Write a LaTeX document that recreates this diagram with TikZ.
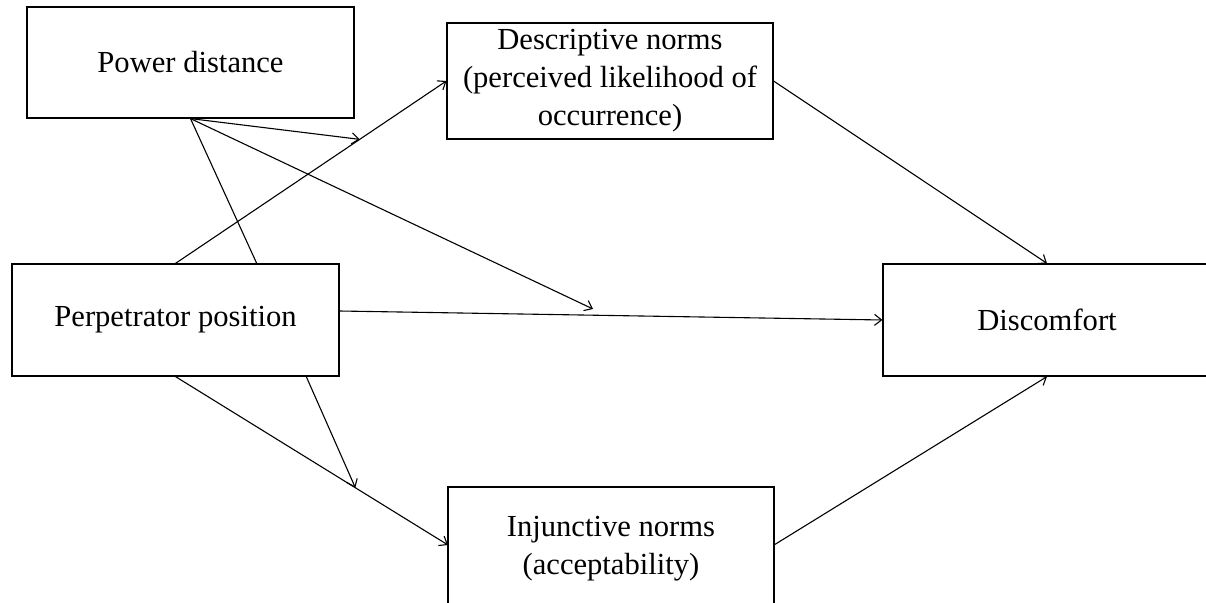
\documentclass[tikz,border=0pt]{standalone}
\usepackage{fontspec}
\setmainfont{Liberation Serif}
\usetikzlibrary{arrows.meta,calc}
\begin{document}
\begin{tikzpicture}[x=0.5pt,y=-0.5pt,
  box/.style={draw=black,line width=0.6pt,inner sep=0pt,align=center,font=\fontsize{15.3}{19}\selectfont},
  conn/.style={line width=0.55pt,draw=black},
  arr/.style={conn,-{Straight Barb[length=3.5pt,width=5.5pt]}}]
\useasboundingbox (0,0) rectangle (1206,603);
\clip (0,0) rectangle (1206,603);
\node[box,minimum width=163.5pt,minimum height=55.5pt] (pd) at (190.5,62.5) {Power distance};
\node[box,minimum width=163pt,minimum height=58pt] (desc) at (610,81) {Descriptive norms\\(perceived likelihood of\\occurrence)};
\node[box,minimum width=163.5pt,minimum height=56pt] (perp) at (175.5,320) {Perpetrator position};
\node[box,minimum width=164pt,minimum height=56pt] (disc) at (1047,320) {Discomfort};
\node[box,minimum width=163pt,minimum height=62pt] (inj) at (611,549) {Injunctive norms\\(acceptability)};
\coordinate (pe) at (339,311);
\coordinate (pn) at (257,264);
\coordinate (pb) at (306,376);
\coordinate (ie) at (774,545);
\coordinate (iw) at (448,545);
\coordinate (m1) at ($(perp.north)!0.68!(desc.west)$);
\coordinate (m2) at (593,309);
\coordinate (m3) at ($(perp.south)!0.66!(iw)$);
% paths
\draw[arr] (perp.north) -- (desc.west);
\draw[arr] (pe) -- (disc.west);
\draw[arr] (perp.south) -- (iw);
\draw[arr] (desc.east) -- (disc.north);
\draw[arr] (ie) -- (disc.south);
% moderators
\draw[arr] (pd.south) -- (m1);
\draw[conn] (pd.south) -- (pn);
\draw[arr] (pd.south) -- (m2);
\draw[arr] (pb) -- (m3);
\end{tikzpicture}
\end{document}
